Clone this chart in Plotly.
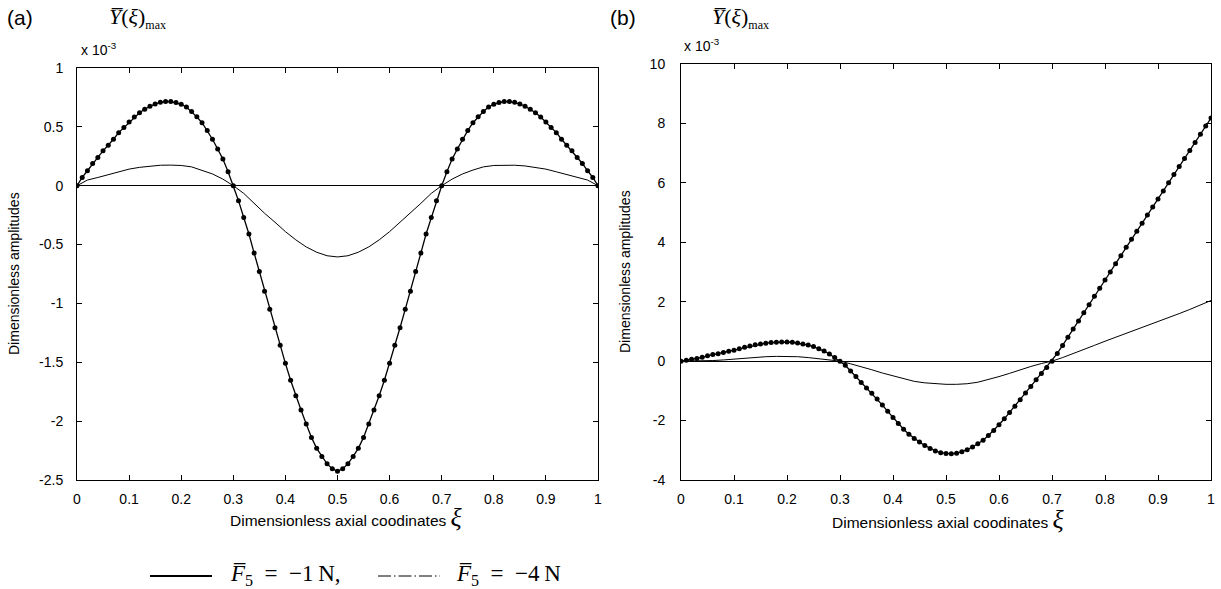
import numpy as np
import plotly.graph_objects as go

W, H = 1221, 589

# dimensionless axial coordinate grids
xi_fine = np.round(np.linspace(0, 1, 101), 2)
xi_coarse = np.round(np.linspace(0, 1, 51), 2)

# (a) amplitudes, units of 1e-3
amp_a_4N = [
    0.000, 0.070, 0.127, 0.189, 0.240, 0.296, 0.344, 0.395, 0.451, 0.494,
    0.541, 0.584, 0.620, 0.650, 0.675, 0.695, 0.708, 0.715, 0.715, 0.706,
    0.692, 0.668, 0.630, 0.585, 0.535, 0.468, 0.395, 0.312, 0.226, 0.118,
    0.000, -0.127, -0.270, -0.410, -0.572, -0.728, -0.897, -1.050, -1.207, -1.356,
    -1.509, -1.653, -1.785, -1.906, -2.025, -2.138, -2.231, -2.300, -2.363, -2.405,
    -2.425,
    -2.405, -2.363, -2.300, -2.231, -2.138, -2.025, -1.906, -1.785, -1.653, -1.509,
    -1.356, -1.207, -1.050, -0.897, -0.728, -0.572, -0.410, -0.270, -0.127, 0.000,
    0.118, 0.226, 0.312, 0.395, 0.468, 0.535, 0.585, 0.630, 0.668, 0.692,
    0.706, 0.715, 0.715, 0.708, 0.695, 0.675, 0.650, 0.620, 0.584, 0.541,
    0.494, 0.451, 0.395, 0.344, 0.296, 0.240, 0.189, 0.127, 0.070, 0.000,
]
amp_a_1N = [
    0.000, 0.048, 0.070, 0.093, 0.118, 0.141, 0.156, 0.168, 0.174, 0.175,
    0.172, 0.160, 0.133, 0.100, 0.056, 0.000, -0.065, -0.150, -0.234, -0.310,
    -0.390, -0.460, -0.520, -0.565, -0.595,
    -0.605,
    -0.595, -0.565, -0.520, -0.460, -0.390,
    -0.310, -0.234, -0.150, -0.065, 0.000, 0.056, 0.100, 0.133, 0.160, 0.172,
    0.175, 0.174, 0.168, 0.156, 0.141, 0.118, 0.093, 0.070, 0.048, 0.000,
]

# (b) amplitudes, units of 1e-3
amp_b_4N = [
    0.00, 0.03, 0.06, 0.09, 0.13, 0.18, 0.22, 0.25, 0.29, 0.33,
    0.37, 0.42, 0.47, 0.51, 0.55, 0.58, 0.605, 0.625, 0.64, 0.645,
    0.645, 0.635, 0.61, 0.58, 0.54, 0.49, 0.42, 0.34, 0.24, 0.12,
    0.00, -0.14, -0.33, -0.52, -0.72, -0.90, -1.08, -1.27, -1.48, -1.69,
    -1.90, -2.10, -2.29, -2.46, -2.60, -2.72, -2.84, -2.94, -3.02, -3.08,
    -3.11, -3.12, -3.10, -3.05, -2.98, -2.89, -2.78, -2.66, -2.50, -2.33,
    -2.14, -1.94, -1.73, -1.52, -1.30, -1.07, -0.85, -0.63, -0.42, -0.21,
    0.00, 0.26, 0.53, 0.80, 1.08, 1.35, 1.63, 1.90, 2.18, 2.45,
    2.73, 3.00, 3.28, 3.55, 3.83, 4.10, 4.37, 4.64, 4.92, 5.19,
    5.46, 5.73, 6.00, 6.28, 6.55, 6.82, 7.09, 7.36, 7.64, 7.91,
    8.18,
]
amp_b_1N = [
    0.00, 0.00, 0.01, 0.02, 0.04, 0.07, 0.10, 0.13, 0.15, 0.16,
    0.16, 0.15, 0.12, 0.08, 0.04, 0.00, -0.09, -0.18, -0.29, -0.40,
    -0.50, -0.60, -0.68, -0.73, -0.76, -0.78, -0.78, -0.76, -0.71, -0.62,
    -0.52, -0.41, -0.29, -0.18, -0.08, 0.00, 0.12, 0.25, 0.39, 0.53,
    0.67, 0.80, 0.93, 1.06, 1.19, 1.32, 1.46, 1.60, 1.74, 1.89,
    2.04,
]

x_ticks = [0, 0.1, 0.2, 0.3, 0.4, 0.5, 0.6, 0.7, 0.8, 0.9, 1]
x_labels = ['0', '0.1', '0.2', '0.3', '0.4', '0.5', '0.6', '0.7', '0.8', '0.9', '1']
ya_ticks = [-2.5, -2, -1.5, -1, -0.5, 0, 0.5, 1]
ya_labels = ['-2.5', '-2', '-1.5', '-1', '-0.5', '0', '0.5', '1']
yb_ticks = [-4, -2, 0, 2, 4, 6, 8, 10]
yb_labels = ['-4', '-2', '0', '2', '4', '6', '8', '10']


def px(x):
    return x / W


def py(y):
    return 1 - y / H


SANS = 'Liberation Sans'
SERIF = 'Liberation Serif'

fig = go.Figure()

for xa, ya, thin, thick in [('x', 'y', amp_a_1N, amp_a_4N), ('x2', 'y2', amp_b_1N, amp_b_4N)]:
    fig.add_trace(go.Scatter(x=xi_coarse, y=thin, mode='lines', xaxis=xa, yaxis=ya,
                             line=dict(color='black', width=1), showlegend=False))
    fig.add_trace(go.Scatter(x=xi_fine, y=thick, mode='lines+markers', xaxis=xa, yaxis=ya,
                             line=dict(color='black', width=1.3),
                             marker=dict(color='black', size=5), showlegend=False))

axis_style = dict(showline=True, linecolor='black', linewidth=1, mirror='ticks',
                  ticks='inside', ticklen=5, tickcolor='black', showgrid=False,
                  tickfont=dict(family=SANS, size=14, color='black'))

fig.update_layout(
    width=W, height=H, autosize=False,
    margin=dict(l=0, r=0, t=0, b=0, autoexpand=False),
    paper_bgcolor='white', plot_bgcolor='white',
    xaxis=dict(domain=[px(77), px(598)], range=[0, 1], tickvals=x_ticks, ticktext=x_labels,
               zeroline=False, anchor='y', ticklabelstandoff=6, **axis_style),
    yaxis=dict(domain=[py(480), py(68)], range=[-2.5, 1], tickvals=ya_ticks, ticktext=ya_labels,
               zeroline=True, zerolinecolor='black', zerolinewidth=1, anchor='x',
               ticklabelstandoff=10, **axis_style),
    xaxis2=dict(domain=[px(681), px(1211)], range=[0, 1], tickvals=x_ticks, ticktext=x_labels,
                zeroline=False, anchor='y2', ticklabelstandoff=6, **axis_style),
    yaxis2=dict(domain=[py(480), py(64)], range=[-4, 10], tickvals=yb_ticks, ticktext=yb_labels,
                zeroline=True, zerolinecolor='black', zerolinewidth=1, anchor='x2',
                ticklabelstandoff=12, **axis_style),
)

ann = []


def note(x, y, text, size=12, family=SANS, xanchor='left', angle=0):
    ann.append(dict(x=px(x), y=py(y), xref='paper', yref='paper', text=text, showarrow=False,
                    xanchor=xanchor, yanchor='middle', textangle=angle,
                    font=dict(family=family, size=size, color='black')))


ylab = '<i>Y\u0305</i>(<i>\u03be</i>)<sub><span style="font-size:12px">max</span></sub>'
note(5, 17, '(a)', size=21)
note(608, 17, '(b)', size=21)
note(107, 18, ylab, size=22, family=SERIF)
note(710, 18, ylab, size=22, family=SERIF)
note(79, 49, 'x 10<sup>-3</sup>', size=14)
note(682, 45, 'x 10<sup>-3</sup>', size=14)
note(14, 274, 'Dimensionless amplitudes', size=14, xanchor='center', angle=-90)
note(625, 272, 'Dimensionless amplitudes', size=14, xanchor='center', angle=-90)
xlab = ('Dimensionless axial coodinates '
        '<span style="font-family:Liberation Serif;font-size:26px"><i>\u03be</i></span>')
note(346, 517, xlab, size=15.5, xanchor='center')
note(948, 519, xlab, size=15.5, xanchor='center')
note(228, 575, '<i>F\u0305</i><sub>5</sub>\u2002=\u2002\u22121\u2009N,', size=23, family=SERIF)
note(454, 575, '<i>F\u0305</i><sub>5</sub>\u2002=\u2002\u22124\u2009N', size=23, family=SERIF)

fig.update_layout(annotations=ann, shapes=[
    dict(type='line', xref='paper', yref='paper', x0=px(150), x1=px(212), y0=py(576), y1=py(576),
         line=dict(color='black', width=2)),
    dict(type='line', xref='paper', yref='paper', x0=px(378), x1=px(440), y0=py(576), y1=py(576),
         line=dict(color='black', width=1, dash='13px,3px,1.5px,3px')),
])

# drop the default page margin so the figure sits at the window's top-left corner
fig.write_html("out.html", config={'displayModeBar': False},
               post_script="document.body.style.margin = '0px';")
